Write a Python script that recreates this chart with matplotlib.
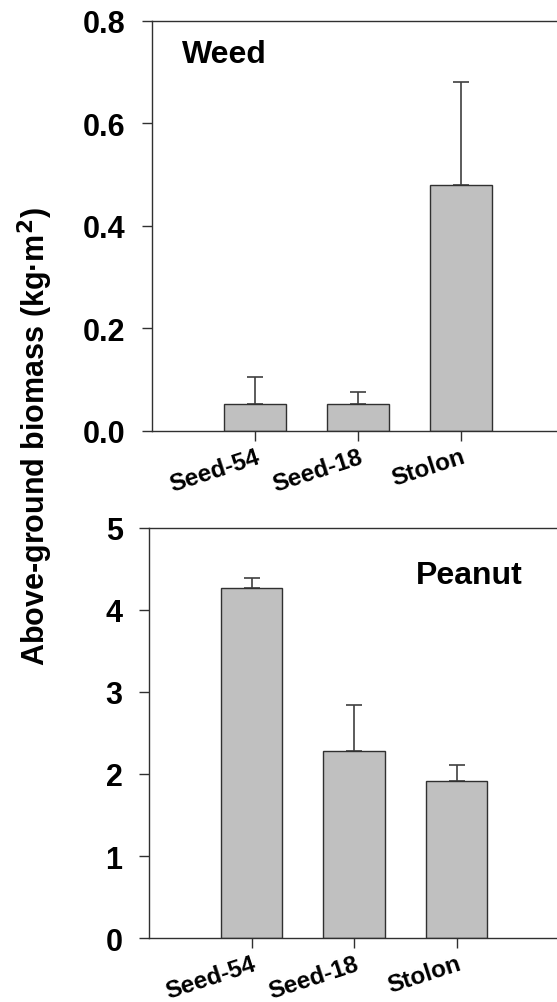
import numpy as np
import matplotlib.pyplot as plt

plt.rcParams["font.family"] = ["Liberation Sans", "DejaVu Sans"]
plt.rcParams["font.weight"] = "bold"

groups = ["Seed-54", "Seed-18", "Stolon"]
weed_mean = [0.053, 0.053, 0.480]
weed_err = [0.052, 0.024, 0.200]
peanut_mean = [4.27, 2.28, 1.91]
peanut_err = [0.12, 0.56, 0.20]

BAR_COLOR = "#c0c0c0"
EDGE = "#303030"
ERR = "#404040"

fig = plt.figure(figsize=(5.57, 10.03), dpi=100)
ax1 = fig.add_axes([0.2729, 0.5693, 0.7271, 0.4088])
ax2 = fig.add_axes([0.2675, 0.0638, 0.7325, 0.4088])

x = np.arange(1, len(groups) + 1)


def draw(ax, means, errs, ylim, yticks, fmt, xmax):
    ax.bar(x, means, width=0.6, color=BAR_COLOR, edgecolor=EDGE, linewidth=1.0, zorder=2)
    ax.errorbar(x, means, yerr=[np.zeros(len(errs)), errs], fmt="none",
                ecolor=ERR, elinewidth=1.2, capsize=6, capthick=1.2, zorder=1)
    ax.set_xlim(0, xmax)
    ax.set_ylim(*ylim)
    ax.set_yticks(yticks)
    ax.set_yticklabels([fmt.format(t) for t in yticks], fontsize=22, fontweight="bold")
    ax.set_xticks(x)
    ax.set_xticklabels(groups, rotation=18, ha="right", rotation_mode="anchor",
                       fontsize=17.5, fontweight="bold")
    ax.tick_params(axis="both", direction="out", length=7, width=1, color="#303030")
    ax.tick_params(axis="x", pad=3)
    ax.tick_params(axis="y", pad=12)
    for s in ["left", "bottom", "top"]:
        ax.spines[s].set_linewidth(1.0)
        ax.spines[s].set_color("#303030")
    ax.spines["right"].set_visible(False)


draw(ax1, weed_mean, weed_err, (0, 0.8), [0.0, 0.2, 0.4, 0.6, 0.8], "{:.1f}", 3.93)
draw(ax2, peanut_mean, peanut_err, (0, 5), [0, 1, 2, 3, 4, 5], "{:d}", 3.98)

ax1.text(0.074, 0.92, "Weed", transform=ax1.transAxes, fontsize=23,
         fontweight="bold", va="center", ha="left")
ax2.text(0.655, 0.885, "Peanut", transform=ax2.transAxes, fontsize=23,
         fontweight="bold", va="center", ha="left")

fig.text(0.063, 0.565, "Above-ground biomass (kg·m$^\\mathbf{2}$)", rotation=90,
         fontsize=22, fontweight="bold", va="center", ha="center")

fig.savefig("out.png", dpi=100)
